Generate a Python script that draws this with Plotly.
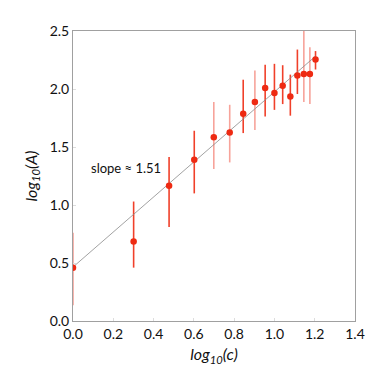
import plotly.graph_objects as go

# data
log_c = [0.0, 0.301, 0.477, 0.602, 0.699, 0.778, 0.845, 0.903, 0.954, 1.0,
         1.041, 1.079, 1.114, 1.146, 1.176, 1.204]
log_A = [0.46, 0.685, 1.165, 1.39, 1.584, 1.624, 1.786, 1.887, 2.009, 1.965,
         2.029, 1.936, 2.116, 2.13, 2.13, 2.254]
err_hi = [0.76, 1.03, 1.413, 1.64, 1.887, 1.864, 2.08, 2.16, 2.21, 2.217,
          2.205, 2.124, 2.34, 2.55, 2.36, 2.327]
err_lo = [0.136, 0.46, 0.81, 1.10, 1.31, 1.367, 1.62, 1.647, 1.763, 1.82,
          1.87, 1.77, 1.957, 1.887, 1.87, 2.168]
light_bar = [True, False, False, False, True, True, False, True, False, False,
             False, False, False, True, True, False]
fit_x = [0.0, 1.204]
fit_intercept = 0.465
fit_slope = 1.51
x_ticks = [0.0, 0.2, 0.4, 0.6, 0.8, 1.0, 1.2, 1.4]
y_ticks = [0.0, 0.5, 1.0, 1.5, 2.0, 2.5]

FONT = "Lato"

fig = go.Figure()

# error bars as two groups (dark / light)
for light, col in [(False, "#f0402a"), (True, "#f7a39a")]:
    idx = [i for i in range(len(log_c)) if light_bar[i] == light]
    xs = [log_c[i] for i in idx]
    ys = [log_A[i] for i in idx]
    fig.add_trace(go.Scatter(
        x=xs, y=ys, mode="markers",
        marker=dict(size=1, color="rgba(0,0,0,0)"),
        error_y=dict(type="data", symmetric=False,
                     array=[err_hi[i] - log_A[i] for i in idx],
                     arrayminus=[log_A[i] - err_lo[i] for i in idx],
                     color=col, thickness=1.6, width=0),
        showlegend=False, hoverinfo="skip"))

# fit line
fig.add_trace(go.Scatter(
    x=fit_x, y=[fit_intercept + fit_slope * v for v in fit_x],
    mode="lines", line=dict(color="#8a8a8a", width=0.8),
    showlegend=False))

# points
fig.add_trace(go.Scatter(
    x=log_c, y=log_A, mode="markers",
    marker=dict(size=6.5, color="#ee2a12"),
    showlegend=False))

fig.add_annotation(x=0.078, y=1.32, xref="x", yref="y", text="slope ≈ 1.51",
                   showarrow=False, xanchor="left", yanchor="middle",
                   font=dict(family=FONT, size=13, color="#111"))

axis_common = dict(showgrid=False, zeroline=False, showline=True,
                   linecolor="#a0a0a0", linewidth=1, mirror=True,
                   ticks="inside", ticklen=3, tickcolor="#dddddd",
                   tickfont=dict(family=FONT, size=14, color="#111"))

fig.update_xaxes(range=[0, 1.4], tickvals=x_ticks,
                 ticktext=[f"{v:.1f}" for v in x_ticks],
                 title=dict(text="<i>log<sub>10</sub>(c)</i>",
                            font=dict(family=FONT, size=16, color="#111"),
                            standoff=8),
                 **axis_common)
fig.update_yaxes(range=[0, 2.5], tickvals=y_ticks,
                 ticktext=[f"{v:.1f}" for v in y_ticks],
                 title=dict(text="<i>log<sub>10</sub>(A)</i>",
                            font=dict(family=FONT, size=16, color="#111"),
                            standoff=8),
                 **axis_common)

fig.update_layout(width=379, height=372,
                  margin=dict(l=65, r=32, t=23, b=59),
                  plot_bgcolor="white", paper_bgcolor="white")

fig.write_html("out.html")
